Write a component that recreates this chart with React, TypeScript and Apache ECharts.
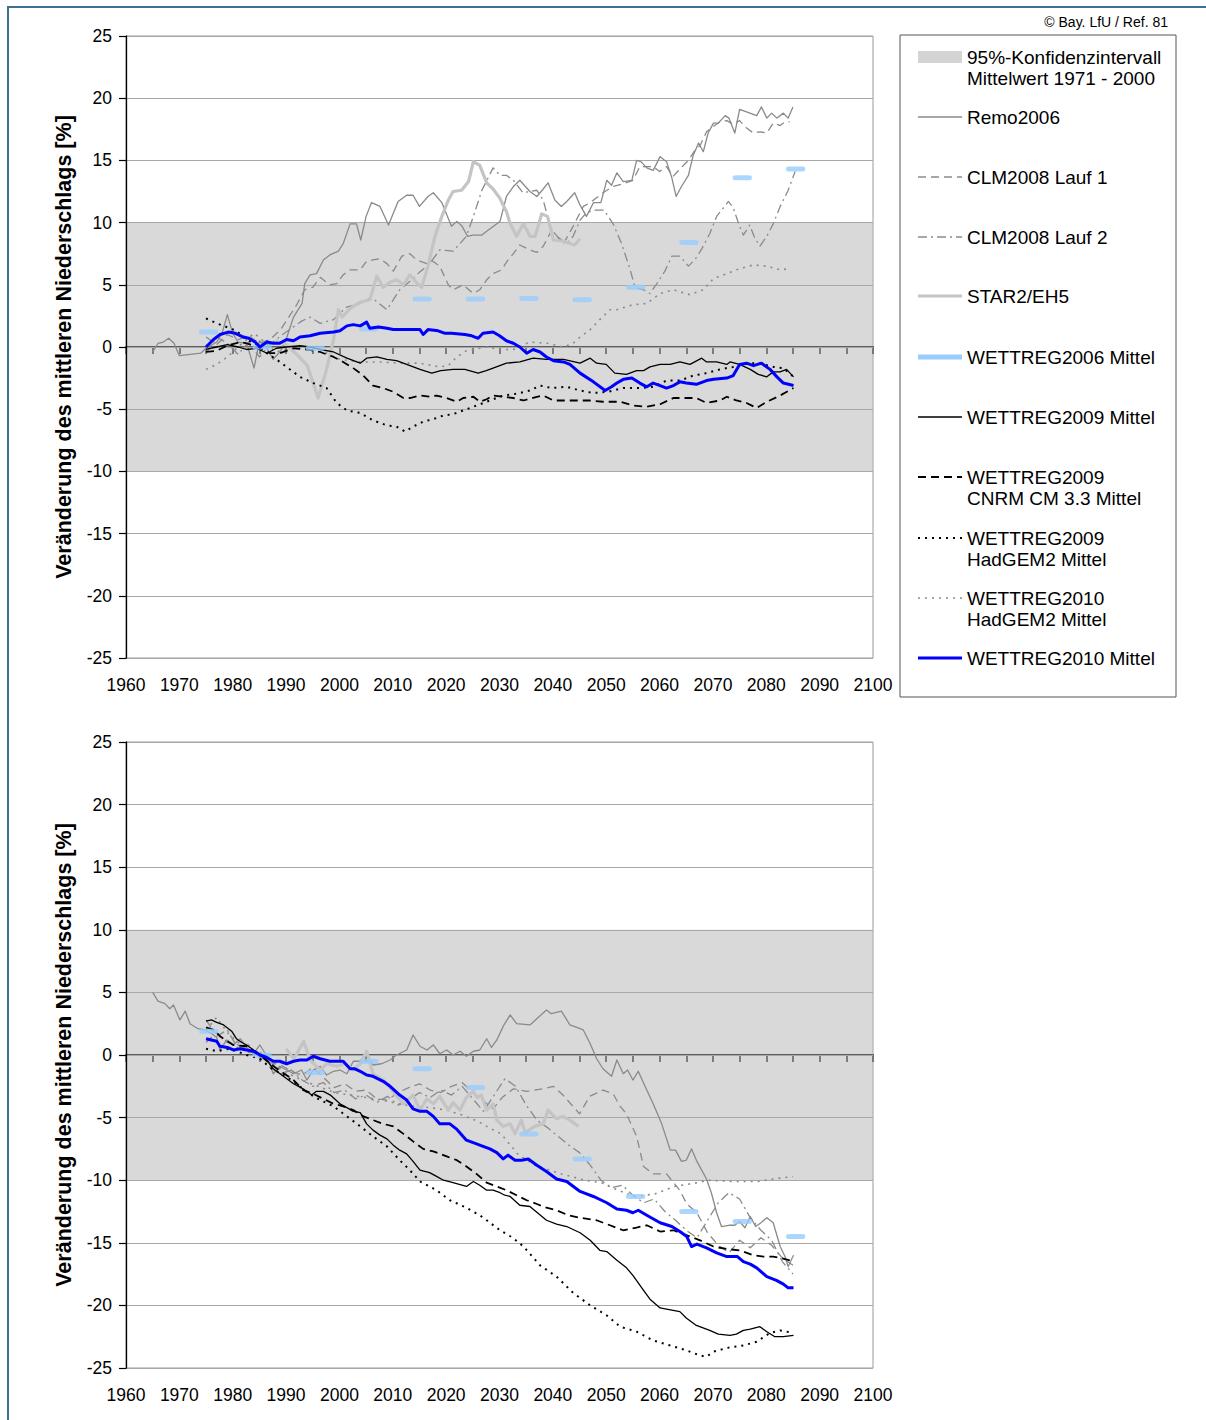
import React, { useEffect, useRef } from 'react';
import * as echarts from 'echarts';

const FONT = "'Liberation Sans', Arial, Helvetica, sans-serif";

type Pt = [number, number];

// ---------- axis ranges / ticks ----------
const yearRange = [1960, 2100];
const valueRange = [-25, 25];
const confidenceBand = [-10, 10];

// ---------- WETTREG2006: decadal means (decade centres) ----------
const w2006Years = [1975.5, 1985.5, 1995.5, 2005.5, 2015.5, 2025.5, 2035.5, 2045.5, 2055.5, 2065.5, 2075.5, 2085.5];
const w2006Top = [1.2, 0.0, -0.1, 1.45, 3.85, 3.85, 3.9, 3.8, 4.8, 8.4, 13.6, 14.3];
const w2006Bottom = [1.9, 0.0, -1.4, -0.5, -1.1, -2.6, -6.3, -8.3, -11.3, -12.5, -13.3, -14.5];

// ---------- upper panel ----------
const remoTop: Pt[] = [[1965,-0.4],[1966,0.3],[1967,0.4],[1968,0.7],[1969,0.3],[1970,-0.7],[1972,-0.6],[1974,-0.5],[1975,-0.1],[1977,0.4],[1978,1.1],[1979,2.6],[1980,1.1],[1981,0.4],[1982.6,0.3],[1984,-1.7],[1985,0.5],[1986.4,-0.1],[1987.6,-1.0],[1989,-0.3],[1990,0.6],[1991.4,2.4],[1993,3.5],[1993.5,5.1],[1994.5,5.8],[1995.7,5.9],[1997,7.0],[1998.2,7.4],[1999.8,7.7],[2000.7,8.3],[2002,9.9],[2003.2,9.9],[2004,8.6],[2005,10.5],[2006,11.6],[2007.6,11.3],[2009.2,9.8],[2011,11.7],[2012.6,12.2],[2013.8,12.2],[2015,11.3],[2016.6,12.1],[2017.6,12.4],[2019.2,11.6],[2021,9.7],[2022,10.1],[2023,9.7],[2024,8.9],[2025,9.0],[2026.7,9.0],[2027.6,9.3],[2029.5,9.9],[2030.1,10.1],[2031.3,12.1],[2032.6,12.9],[2033.8,13.4],[2035.7,12.5],[2037,12.1],[2038,12.6],[2039.1,13.2],[2040.4,11.8],[2041.6,11.3],[2042.6,11.7],[2044.1,12.4],[2045.1,11.4],[2046.3,10.5],[2047.6,11.6],[2049,11.6],[2050.1,13.4],[2051,13.0],[2052,14.0],[2053.2,13.3],[2054.8,13.4],[2055.7,15.0],[2056.5,14.9],[2057.6,14.4],[2058.8,14.2],[2060.1,15.3],[2061.3,14.9],[2062.3,13.6],[2063.1,12.1],[2064.1,12.9],[2065.4,13.8],[2066.3,15.4],[2067.3,16.4],[2068.2,15.7],[2069.1,17.2],[2070.1,18.0],[2071,18.0],[2072.3,18.6],[2073,18.4],[2074.1,17.2],[2075,19.1],[2076.3,18.9],[2078.2,18.6],[2079.1,19.3],[2080.1,18.4],[2081,18.8],[2082,18.4],[2083.2,18.8],[2084.1,18.4],[2085,19.3]];

const clm1Top: Pt[] = [[1975,0.8],[1977,0.2],[1979,1.0],[1981,0.6],[1983,0.9],[1985,0.3],[1987,0.6],[1989,1.4],[1990.5,2.4],[1992,3.4],[1993.5,4.6],[1995,4.8],[1996.4,5.6],[1998.2,5.0],[1999.5,5.1],[2000.7,5.8],[2002,6.2],[2003.9,6.2],[2005.1,6.9],[2006.3,7.0],[2007.6,7.1],[2008.9,6.7],[2010.1,6.1],[2011.7,7.3],[2013.2,7.5],[2014.5,7.0],[2016.4,6.7],[2017.5,6.9],[2018.8,6.5],[2020.4,5.0],[2021.3,4.6],[2023.2,5.0],[2025.1,4.3],[2026.3,4.6],[2027.6,5.4],[2028.8,5.9],[2030.4,6.2],[2031.6,7.0],[2032.6,7.5],[2033.8,8.2],[2035.7,7.8],[2037,7.6],[2038.2,8.1],[2039.8,9.4],[2042,8.3],[2043.8,9.7],[2045.7,11.3],[2047,11.6],[2049.4,12.4],[2051.3,12.9],[2053,13.1],[2055,13.4],[2056.3,14.5],[2058.8,14.5],[2060,14.1],[2061.3,14.5],[2062.5,13.7],[2063.8,14.3],[2065.4,15.0],[2066.6,15.8],[2067.6,16.2],[2068.8,17.3],[2070,17.7],[2071.3,18.1],[2072.6,18.2],[2073.8,17.9],[2075,18.2],[2076.3,17.6],[2077.6,17.2],[2078.8,17.3],[2080.1,17.2],[2081.3,18.0],[2082.6,17.8],[2083.5,18.1],[2084.4,18.1]];

const clm2Top: Pt[] = [[1975,-0.5],[1977,0.8],[1979,0.3],[1981,-0.6],[1983,0.4],[1985,-0.8],[1987,0.2],[1989,0.9],[1991,1.5],[1993,2.1],[1994.5,2.4],[1996.4,1.9],[1998.9,2.2],[2001.3,3.2],[2003.9,3.5],[2006,4.0],[2008.9,3.0],[2011.3,4.6],[2013,5.2],[2015,6.0],[2016.9,6.7],[2018.8,7.8],[2021.3,7.7],[2023.8,8.9],[2025.1,10.5],[2026.7,12.6],[2028.8,14.4],[2030.1,13.8],[2031.3,13.8],[2032.6,13.4],[2034.4,12.4],[2037,12.6],[2038.2,11.8],[2039.5,9.7],[2040.7,8.9],[2042.6,8.3],[2043.8,8.9],[2045.1,10.2],[2046.3,10.8],[2047.9,11.0],[2049.6,11.0],[2051.3,9.9],[2052.9,8.3],[2054.5,6.2],[2055.4,4.8],[2057,4.6],[2058.2,4.3],[2059.5,5.1],[2061,6.1],[2062.3,7.3],[2063.8,7.3],[2065.4,6.5],[2066.6,7.0],[2067.8,7.8],[2069.4,9.1],[2070.7,10.5],[2072.9,11.7],[2073.8,11.2],[2075,9.7],[2075.7,9.0],[2076.9,9.8],[2077.8,8.8],[2078.8,8.1],[2080.1,8.9],[2081.3,9.9],[2082.6,11.3],[2084.1,12.6],[2085.4,14.1]];

const starTop: Pt[] = [[1988,0.5],[1990,0.2],[1992,-0.6],[1994,-1.5],[1995,-2.8],[1996,-4.1],[1997.6,-1.8],[1998.9,0.6],[1999.8,3.0],[2000.5,2.4],[2002,3.1],[2003.9,3.6],[2005.7,3.8],[2007,5.7],[2008.2,4.8],[2009.5,5.2],[2010.7,5.4],[2012,5.0],[2013.2,5.8],[2014.2,5.3],[2015.4,4.8],[2016.6,6.5],[2017.9,8.9],[2019.2,10.5],[2020.4,11.8],[2021.3,12.5],[2022.9,12.6],[2024.2,13.3],[2025.1,14.9],[2026.3,14.6],[2027.6,13.2],[2028.8,12.7],[2030,12.0],[2031.3,10.9],[2032,9.9],[2033.2,8.9],[2034.5,9.9],[2035.7,8.9],[2036.7,8.9],[2037.9,10.7],[2039,10.5],[2040.1,8.6],[2042,8.5],[2044.1,8.2],[2045.1,8.7]];

const w2009Top: Pt[] = [[1975,-0.2],[1977,0],[1979,0.2],[1981,0],[1982.6,-0.2],[1984.5,-0.1],[1986.4,-0.5],[1988.2,-0.1],[1990,0],[1992.6,0.1],[1994.5,0],[1996.4,-0.2],[1998.9,-0.4],[2001.4,-0.9],[2003.9,-1.3],[2005.1,-0.9],[2007,-0.8],[2008.9,-1.0],[2010.7,-1.1],[2012.6,-1.4],[2015.1,-1.8],[2017.3,-2.1],[2019,-1.9],[2021.3,-1.8],[2023.5,-1.8],[2026,-2.1],[2027.5,-1.9],[2028.8,-1.7],[2031.3,-1.3],[2033.8,-1.2],[2036.3,-0.9],[2038.8,-1.0],[2042,-1.0],[2045.1,-1.3],[2047,-0.9],[2048.2,-1.3],[2050,-1.4],[2051.6,-2.1],[2053.8,-2.2],[2055.7,-1.9],[2057,-1.9],[2058.2,-1.6],[2060.1,-1.4],[2062,-1.4],[2063.8,-1.2],[2065.7,-1.4],[2067.9,-0.9],[2068.8,-1.2],[2070.7,-1.2],[2072.6,-1.4],[2073.2,-1.2],[2075,-1.4],[2077,-1.8],[2078.5,-2.2],[2080.1,-2.4],[2081.3,-2.0],[2082.6,-2.0],[2083.8,-1.8],[2085.1,-2.4]];

const cnrmTop: Pt[] = [[1975,-0.4],[1977,-0.3],[1978.9,0.1],[1981.4,0.4],[1982.6,0.3],[1985.1,-0.1],[1987,-0.5],[1988.8,-0.5],[1991.4,-0.1],[1994,-0.2],[1996.4,-0.4],[1998.9,-0.8],[2000.7,-1.2],[2002.6,-1.7],[2004.5,-2.3],[2006.3,-3.1],[2008.2,-3.3],[2010.1,-3.6],[2012,-4.1],[2013.2,-4.1],[2015.1,-3.9],[2017,-4.0],[2018.2,-3.9],[2020.1,-4.1],[2022,-4.4],[2023.2,-4.1],[2025.1,-4.0],[2026.3,-4.4],[2027.6,-4.2],[2028.8,-3.9],[2030.7,-4.0],[2032.6,-4.1],[2034.5,-4.3],[2037,-4.0],[2038.2,-3.9],[2040.1,-4.3],[2043.2,-4.3],[2046.9,-4.3],[2049.4,-4.4],[2052.6,-4.4],[2055,-4.7],[2057.6,-4.8],[2060.1,-4.6],[2062.6,-4.1],[2065,-4.1],[2066.9,-4.1],[2068.8,-4.5],[2071.3,-4.3],[2072.6,-4.0],[2074.4,-4.3],[2076.3,-4.5],[2078.2,-4.9],[2080.1,-4.4],[2082.6,-3.9],[2085.1,-3.3]];

const hadgem09Top: Pt[] = [[1975,2.3],[1977,1.9],[1978.9,1.6],[1980.7,1.3],[1982.6,0.6],[1984.5,0.2],[1986.4,-0.5],[1988.2,-1.0],[1990.1,-1.6],[1992.6,-2.4],[1995.1,-2.9],[1997.6,-3.3],[1999.5,-4.5],[2001.4,-5.1],[2003.9,-5.3],[2006.3,-5.9],[2008.9,-6.3],[2010.7,-6.4],[2012.3,-6.8],[2013.8,-6.4],[2015.7,-6.0],[2017.6,-5.8],[2019.5,-5.5],[2021.3,-5.4],[2023.2,-5.1],[2025.1,-4.8],[2027,-4.5],[2028.8,-4.2],[2030.7,-3.9],[2032.6,-3.8],[2033.8,-3.7],[2035.7,-3.5],[2037.6,-3.1],[2039.8,-3.3],[2042.6,-3.2],[2045.1,-3.5],[2047.6,-3.7],[2050.4,-3.6],[2053.2,-3.3],[2056.3,-3.3],[2058.8,-3.2],[2061.3,-2.7],[2063.8,-2.7],[2066.3,-2.3],[2068.8,-2.1],[2071.3,-1.8],[2073.8,-1.6],[2076.3,-1.3],[2078.8,-1.3],[2081.3,-1.6],[2083.2,-1.7],[2085.1,-2.4]];

const hadgem10Top: Pt[] = [[1975,-1.8],[1977,-1.4],[1979,-0.8],[1981,0],[1982.6,0.6],[1984,1.1],[1986,0.4],[1988,-0.4],[1990,-0.2],[1993,-0.1],[1996.4,-0.2],[1998,-0.6],[2000.1,-1.0],[2003.9,-1.2],[2007.6,-1.2],[2011.3,-1.3],[2015,-1.3],[2018.8,-1.6],[2020.4,-1.5],[2022,-0.8],[2023.8,-0.3],[2027.6,0],[2030.1,-0.2],[2032.6,-0.2],[2035.7,0.4],[2039,0.3],[2042,0],[2043.8,0.3],[2045.1,0.8],[2047,1.4],[2048.8,2.2],[2050.7,3.0],[2052,3.0],[2055,3.4],[2057.6,3.5],[2060.1,4.3],[2062.6,4.6],[2065.7,4.2],[2068.2,4.6],[2070.1,5.5],[2072.6,5.9],[2075,6.3],[2077.6,6.6],[2080.1,6.5],[2082.6,6.2],[2084.4,6.3]];

const w2010Top: Pt[] = [[1975,0],[1976.4,0.6],[1977.6,1.0],[1979.2,1.2],[1980.5,1.1],[1982,0.8],[1983,0.7],[1984.2,0.4],[1985.1,0],[1986.4,0.4],[1987.6,0.3],[1988.8,0.3],[1990.1,0.6],[1991.4,0.5],[1992.6,0.8],[1994.5,0.9],[1996.4,1.1],[1998.9,1.2],[2000.1,1.3],[2001.4,1.7],[2002.6,1.8],[2003.9,1.7],[2005.1,2.0],[2005.7,1.5],[2007.3,1.6],[2008.9,1.5],[2010.1,1.4],[2011.3,1.4],[2012.6,1.4],[2015.1,1.4],[2015.7,1.0],[2016.6,1.4],[2018.5,1.3],[2019.8,1.1],[2021,1.1],[2023.5,1.0],[2024.8,0.9],[2026,0.7],[2026.9,1.1],[2028.8,1.2],[2030,0.9],[2031.3,0.5],[2032.6,0.3],[2033.8,0.0],[2035.1,-0.5],[2036.3,-0.2],[2037.6,-0.4],[2038.8,-0.8],[2040.1,-1.1],[2042,-1.2],[2043.2,-1.4],[2045.1,-2.1],[2047.6,-2.8],[2049.8,-3.5],[2051,-3.2],[2052,-2.9],[2053.2,-2.6],[2054.8,-2.5],[2056.3,-2.9],[2057.6,-3.2],[2058.8,-2.9],[2060.1,-3.1],[2061.3,-3.3],[2062.6,-3.1],[2063.8,-2.8],[2065,-2.9],[2066.9,-3.0],[2068.8,-2.7],[2070.1,-2.6],[2072.6,-2.5],[2073.8,-2.3],[2075,-1.4],[2076.3,-1.3],[2077.6,-1.5],[2079.1,-1.3],[2080.7,-1.8],[2082,-2.4],[2083.2,-2.9],[2085.1,-3.1]];

// ---------- lower panel ----------
const remoBottom: Pt[] = [[1965,5.0],[1966,4.3],[1967.3,4.1],[1968.2,3.7],[1968.9,4.0],[1970.1,2.8],[1971.1,3.5],[1972,2.5],[1973.5,2.1],[1974.8,2.0],[1976.1,1.7],[1977,1.4],[1977.6,0.4],[1978.9,1.2],[1980.1,0.8],[1981.4,1.3],[1982.6,0.6],[1983.9,0.1],[1985.1,0.8],[1986.4,-0.1],[1987.6,-1.5],[1988.8,-0.9],[1990.1,-1.2],[1991.4,-1.5],[1992.9,-1.2],[1993.9,-2.0],[1995.1,-1.2],[1996.4,-0.9],[1997.6,-1.6],[1998.9,-1.3],[2000.1,-1.2],[2001.4,-1.5],[2002.6,-0.5],[2003.9,-0.5],[2005.1,0.1],[2006.3,-0.8],[2007.9,-0.7],[2009.5,-0.4],[2010.7,0],[2012.6,0.4],[2013.8,1.6],[2015.1,0.7],[2016.4,0.4],[2017.6,0.8],[2018.8,0.1],[2020.1,0.4],[2021.3,0],[2022.6,0.3],[2023.8,-0.1],[2025.1,0.3],[2026.3,0.4],[2027.6,1.3],[2028.5,0.6],[2029.5,1.2],[2030.7,2.3],[2032,3.2],[2033.2,2.5],[2035.7,2.4],[2037,2.9],[2038.8,3.6],[2039.7,3.3],[2041.6,3.5],[2043.2,2.4],[2044.5,2.2],[2045.7,2.0],[2047,0.9],[2048.2,-0.3],[2049.4,-1.1],[2051,-1.7],[2052,-0.4],[2053.2,-1.5],[2054,-1.2],[2055,-2.0],[2056,-1.3],[2057.6,-2.8],[2058.8,-3.9],[2060.4,-5.5],[2062,-7.6],[2063,-7.6],[2064.1,-8.5],[2065,-8.4],[2066,-7.5],[2067,-8.5],[2068.8,-9.9],[2069.7,-11.0],[2070.7,-12.6],[2071.6,-13.7],[2073,-13.6],[2074.1,-13.6],[2075,-13.3],[2076,-13.8],[2077,-12.9],[2078,-13.7],[2079,-13.4],[2080.1,-13.0],[2081.3,-13.4],[2082.6,-15.3],[2083.5,-16.1],[2084.1,-16.9],[2085.1,-16.0]];

const clm1Bottom: Pt[] = [[1975,1.0],[1977,1.8],[1979,1.0],[1981,0.8],[1983,0.2],[1985,0.3],[1987,-0.6],[1989,-0.8],[1991,-1.3],[1993,-1.6],[1995,-1.0],[1997,-1.8],[1999,-2.6],[2001,-2.3],[2003,-2.9],[2005,-2.8],[2007,-3.5],[2009,-3.6],[2011,-3.0],[2013,-2.6],[2015,-2.3],[2017,-2.8],[2019,-3.0],[2021,-2.5],[2023,-2.2],[2025,-3.0],[2026.5,-3.5],[2028.8,-4.3],[2030.5,-3.4],[2032.6,-2.7],[2035.1,-2.9],[2038.2,-2.7],[2040.1,-2.5],[2041.9,-3.2],[2045,-4.7],[2046.9,-3.3],[2049.4,-2.8],[2051.3,-3.1],[2052.6,-4.1],[2053.8,-4.7],[2055.7,-6.5],[2057,-8.9],[2058.8,-9.5],[2061.3,-9.5],[2063.8,-10.8],[2065.1,-11.9],[2067,-12.6],[2069,-14.2],[2071,-15.2],[2073,-15.8],[2075,-14.8],[2077,-15.4],[2079,-14.6],[2081,-15.2],[2083,-16.2],[2085,-16.8]];

const clm2Bottom: Pt[] = [[1975,2.8],[1977,1.5],[1979,2.0],[1981,0.5],[1983,0.8],[1985,-0.2],[1987,-1.0],[1989,-1.5],[1991,-1.2],[1993,-2.0],[1995,-2.5],[1997,-2.2],[1999,-3.0],[2001,-2.8],[2003,-3.5],[2005,-3.2],[2007,-3.8],[2009,-3.3],[2011,-4.0],[2013,-3.6],[2015,-3.0],[2017,-3.4],[2019,-2.8],[2021,-3.2],[2023,-2.5],[2025,-3.5],[2027,-4.5],[2029,-3.2],[2031,-1.9],[2033,-2.5],[2035,-4.0],[2037,-5.2],[2039,-5.8],[2041,-6.5],[2043,-7.2],[2045,-7.8],[2047,-8.8],[2049,-10.0],[2051,-10.6],[2053,-10.4],[2055,-11.2],[2057,-11.8],[2059,-11.5],[2061,-12.5],[2063,-13.2],[2065,-14.0],[2067,-14.6],[2069,-13.2],[2071,-11.8],[2073,-11.0],[2075,-11.5],[2077,-13.0],[2079,-14.0],[2081,-14.8],[2083,-16.5],[2085,-17.5]];

const starBottom: Pt[] = [[1990,0.5],[1991.5,-0.3],[1993.3,1.1],[1994.5,-0.4],[1996.4,-1.2],[1997.6,-0.7],[1999.5,-0.9],[2001,-0.7],[2002.6,-1.2],[2003.9,-0.7],[2005.1,0.3],[2006.3,-1.5],[2008.2,-2.0],[2009.5,-2.6],[2010.7,-3.3],[2012,-3.9],[2013.8,-3.2],[2015.1,-4.4],[2016.4,-3.5],[2017.6,-3.9],[2018.8,-3.3],[2020.4,-4.4],[2021.3,-3.8],[2022.6,-4.4],[2023.8,-3.4],[2025.1,-2.9],[2025.8,-3.4],[2026.6,-3.2],[2027.6,-4.4],[2028.8,-3.9],[2029.5,-5.2],[2030.7,-5.7],[2032,-5.5],[2032.9,-6.3],[2034.1,-5.2],[2034.8,-6.2],[2036.6,-5.7],[2038.2,-5.5],[2039.1,-4.4],[2040.7,-5.1],[2041.9,-4.9],[2043.2,-5.2],[2044.8,-5.7]];

const w2009Bottom: Pt[] = [[1975,2.7],[1976,2.8],[1977,2.6],[1978.3,2.4],[1979.8,1.9],[1980.7,1.3],[1981.7,1.0],[1982.6,0.8],[1983.9,0.4],[1985.1,0.1],[1986.4,-0.4],[1987.6,-1.1],[1989.5,-1.7],[1991.4,-2.3],[1993.2,-2.7],[1994.8,-3.2],[1995.7,-2.9],[1997,-2.9],[1998.3,-3.2],[2000.1,-3.9],[2001.4,-4.2],[2002.6,-4.5],[2003.9,-4.6],[2005.1,-5.5],[2006.3,-6.0],[2007.6,-6.4],[2008.9,-6.7],[2010.1,-7.2],[2011.3,-7.6],[2012.6,-7.9],[2013.8,-8.5],[2015.1,-9.2],[2016.9,-9.4],[2018.2,-9.7],[2019.5,-10.0],[2021.3,-10.2],[2023.8,-10.5],[2025.1,-10.1],[2026.3,-10.4],[2027.6,-10.8],[2028.8,-10.8],[2030.1,-11.0],[2031,-11.2],[2032,-11.3],[2033.8,-12.0],[2035.7,-12.1],[2038.8,-13.2],[2040.7,-13.5],[2042.6,-13.7],[2045.1,-14.2],[2047,-14.8],[2048.8,-15.6],[2050.1,-15.7],[2052,-16.4],[2053.8,-17.0],[2055,-17.6],[2057,-18.8],[2058.2,-19.5],[2060.1,-20.2],[2061.3,-20.3],[2063.8,-20.5],[2065,-21.0],[2066.9,-21.6],[2069.4,-22.0],[2071,-22.3],[2073.2,-22.4],[2074.4,-22.3],[2075.7,-22.0],[2077,-21.9],[2078.8,-21.7],[2080.1,-22.1],[2081.6,-22.5],[2083.2,-22.5],[2085.1,-22.4]];

const cnrmBottom: Pt[] = [[1975,2.2],[1976.5,2.0],[1977.6,1.5],[1980.1,0.8],[1982.6,0.7],[1985.1,0],[1987,-0.7],[1989,-1.3],[1991.4,-2.0],[1993.2,-2.8],[1995.1,-3.1],[1997,-3.5],[1998.9,-3.9],[2000.7,-4.1],[2002.6,-4.4],[2004.5,-4.9],[2006.3,-5.2],[2008.2,-5.5],[2010.1,-5.7],[2012,-6.3],[2013.8,-6.9],[2015.7,-7.5],[2017.6,-7.7],[2020.1,-8.1],[2022,-8.4],[2023.8,-8.9],[2025.7,-9.5],[2027.6,-10.2],[2029.5,-10.5],[2031.3,-10.8],[2033.2,-11.2],[2035.1,-11.6],[2037,-11.9],[2038.8,-12.2],[2040.7,-12.4],[2042.9,-12.8],[2045.1,-13.0],[2048.2,-13.2],[2050.7,-13.6],[2053.2,-14.0],[2055.5,-13.8],[2057.6,-13.6],[2060.1,-14.1],[2062.6,-14.0],[2065.1,-14.4],[2067.6,-14.8],[2070.1,-15.3],[2072.6,-15.5],[2075,-15.6],[2077.6,-16.0],[2079.5,-16.1],[2081.3,-16.1],[2082.6,-16.2],[2084.4,-16.4]];

const hadgem09Bottom: Pt[] = [[1975,0.5],[1977,0.3],[1979.5,0.5],[1982.6,0],[1985.1,-0.3],[1987,-1.0],[1989.5,-1.6],[1991.4,-2.1],[1994,-3.0],[1996.4,-3.6],[1998.9,-4.1],[2001.4,-4.9],[2003.9,-5.7],[2006.3,-6.5],[2008.9,-7.3],[2011.3,-8.4],[2013.2,-9.2],[2015.1,-10.1],[2018.2,-10.8],[2020.7,-11.6],[2023.8,-12.2],[2026.3,-12.8],[2027.6,-13.2],[2030.1,-14.0],[2032.5,-14.6],[2034.5,-15.3],[2037.6,-16.8],[2040.7,-17.7],[2043.8,-19.0],[2047,-20.0],[2050.1,-20.8],[2052.6,-21.7],[2055.7,-22.1],[2058.8,-22.8],[2062,-23.2],[2065.1,-23.6],[2067.6,-24.0],[2068.8,-24.1],[2070.1,-23.7],[2072.6,-23.4],[2075.7,-23.2],[2078.2,-22.9],[2080.7,-22.2],[2082.6,-22.0],[2085.1,-22.2]];

const hadgem10Bottom: Pt[] = [[1975,2.0],[1977,3.0],[1979,1.8],[1981,1.0],[1983,0.3],[1985,0],[1987,-0.6],[1990,-1.4],[1993,-2.0],[1996,-2.5],[1999,-3.0],[2002,-3.2],[2005,-3.4],[2008,-3.6],[2011,-3.9],[2014,-4.1],[2017,-4.2],[2020,-4.4],[2023,-4.8],[2026,-5.3],[2028,-5.8],[2030.3,-6.3],[2033.4,-7.9],[2036.6,-8.8],[2041.6,-9.5],[2046,-10.0],[2049.1,-10.2],[2052.2,-10.8],[2055.3,-11.3],[2059.1,-11.1],[2062.8,-10.5],[2067.1,-10.2],[2069,-10.0],[2074,-10.1],[2078.4,-10.1],[2081.5,-9.9],[2085,-9.7]];

const w2010Bottom: Pt[] = [[1975,1.3],[1977,1.1],[1977.6,0.7],[1979,0.6],[1980.1,0.4],[1981.4,0.5],[1982.6,0.4],[1983.9,0.3],[1985.1,0],[1986.4,-0.2],[1987.6,-0.5],[1988.8,-0.5],[1990.1,-0.7],[1991.4,-0.5],[1992.6,-0.4],[1993.9,-0.4],[1995.1,-0.1],[1996.4,-0.3],[1998.2,-0.5],[2000.7,-0.5],[2002,-1.1],[2002.9,-1.1],[2003.9,-1.3],[2005.1,-1.6],[2006.3,-1.7],[2008.2,-2.1],[2009.5,-2.5],[2011.3,-3.2],[2012.6,-3.6],[2013.8,-4.3],[2015.1,-4.5],[2016.4,-4.5],[2017.6,-4.9],[2018.8,-5.5],[2020.7,-5.5],[2021.9,-5.9],[2023.8,-6.8],[2025.7,-7.1],[2026.3,-7.2],[2028.2,-7.5],[2029.5,-7.8],[2030.7,-8.3],[2031.6,-8.0],[2032.9,-8.4],[2034.1,-8.4],[2035.4,-8.3],[2037,-8.8],[2038.8,-9.3],[2040.7,-9.9],[2042.6,-10.1],[2045.1,-10.9],[2047.6,-11.3],[2050.1,-11.8],[2052,-12.3],[2053.8,-12.4],[2055,-12.6],[2056,-12.4],[2057.6,-12.8],[2060.1,-13.4],[2062.3,-13.7],[2063.8,-14.1],[2065.1,-14.5],[2066,-15.3],[2067,-15.1],[2068.8,-15.4],[2070.7,-15.8],[2072.6,-16.1],[2074.6,-16.1],[2075.7,-16.5],[2077,-16.7],[2078.2,-17.0],[2080.1,-17.7],[2081.9,-18.0],[2083.2,-18.3],[2084.1,-18.6],[2085.1,-18.6]];

// ---------- texts ----------
const yTitle = 'Veränderung des mittleren Niederschlags [%]';
const copyright = '© Bay. LfU / Ref. 81';
const bandLabel = ['95%-Konfidenzintervall', 'Mittelwert 1971 - 2000'];

// ---------- line styles per model ----------
const GREY = '#8a8a8a';
const STYLE: Record<string, { color: string; width: number; type: any }> = {
  remo: { color: GREY, width: 1.3, type: 'solid' },
  clm1: { color: GREY, width: 1.3, type: [8, 5] },
  clm2: { color: GREY, width: 1.3, type: [9, 4, 2, 4] },
  star: { color: '#c4c4c4', width: 3.2, type: 'solid' },
  w2006: { color: '#99ccff', width: 5, type: 'solid' },
  w2009: { color: '#000000', width: 1.3, type: 'solid' },
  cnrm: { color: '#000000', width: 1.8, type: [8, 5] },
  had09: { color: '#000000', width: 2, type: [2, 5] },
  had10: { color: GREY, width: 1.6, type: [2, 5] },
  w2010: { color: '#0000ff', width: 3, type: 'solid' },
};

const LEGEND: { key: string; lines: string[] }[] = [
  { key: 'remo', lines: ['Remo2006'] },
  { key: 'clm1', lines: ['CLM2008 Lauf 1'] },
  { key: 'clm2', lines: ['CLM2008 Lauf 2'] },
  { key: 'star', lines: ['STAR2/EH5'] },
  { key: 'w2006', lines: ['WETTREG2006 Mittel'] },
  { key: 'w2009', lines: ['WETTREG2009 Mittel'] },
  { key: 'cnrm', lines: ['WETTREG2009', 'CNRM CM 3.3 Mittel'] },
  { key: 'had09', lines: ['WETTREG2009', 'HadGEM2 Mittel'] },
  { key: 'had10', lines: ['WETTREG2010', 'HadGEM2 Mittel'] },
  { key: 'w2010', lines: ['WETTREG2010 Mittel'] },
];

const GRIDS = [
  { left: 126, top: 36, width: 747, height: 622 },
  { left: 126, top: 742, width: 747, height: 626 },
];

function lineSeries(name: string, key: string, data: Pt[], panel: number, z: number) {
  const s = STYLE[key];
  return {
    name,
    type: 'line',
    xAxisIndex: panel * 2,
    yAxisIndex: panel,
    data,
    symbol: 'none',
    showSymbol: false,
    silent: true,
    z,
    lineStyle: { color: s.color, width: s.width, type: s.type, cap: 'butt', join: 'round' },
  };
}

function panelSeries(panel: number, d: {
  remo: Pt[]; clm1: Pt[]; clm2: Pt[]; star: Pt[]; w2009: Pt[]; cnrm: Pt[]; had09: Pt[]; had10: Pt[]; w2010: Pt[]; w2006: number[];
}) {
  return [
    {
      name: 'Konfidenzintervall',
      type: 'line',
      xAxisIndex: panel * 2,
      yAxisIndex: panel,
      data: [],
      silent: true,
      z: 1,
      markArea: {
        silent: true,
        itemStyle: { color: 'rgba(185,185,185,0.55)' },
        data: [[{ yAxis: confidenceBand[0] }, { yAxis: confidenceBand[1] }]],
      },
    },
    lineSeries('Remo2006', 'remo', d.remo, panel, 3),
    lineSeries('CLM2008 Lauf 1', 'clm1', d.clm1, panel, 3),
    lineSeries('CLM2008 Lauf 2', 'clm2', d.clm2, panel, 3),
    lineSeries('WETTREG2010 HadGEM2 Mittel', 'had10', d.had10, panel, 3),
    lineSeries('STAR2/EH5', 'star', d.star, panel, 3),
    lineSeries('WETTREG2009 Mittel', 'w2009', d.w2009, panel, 4),
    lineSeries('WETTREG2009 CNRM CM 3.3 Mittel', 'cnrm', d.cnrm, panel, 4),
    lineSeries('WETTREG2009 HadGEM2 Mittel', 'had09', d.had09, panel, 4),
    {
      name: 'WETTREG2006 Mittel',
      type: 'scatter',
      xAxisIndex: panel * 2,
      yAxisIndex: panel,
      data: w2006Years.map((y, i) => [y, d.w2006[i]]),
      symbol: 'roundRect',
      symbolSize: [19, 5],
      silent: true,
      z: 4,
      itemStyle: { color: STYLE.w2006.color },
    },
    lineSeries('WETTREG2010 Mittel', 'w2010', d.w2010, panel, 5),
  ];
}

function axesFor(panel: number) {
  const x = [
    {
      gridIndex: panel,
      type: 'value',
      min: yearRange[0],
      max: yearRange[1],
      interval: 10,
      position: 'bottom',
      axisLine: { show: false, onZero: false },
      axisTick: { show: false },
      splitLine: { show: false },
      axisLabel: { fontFamily: FONT, fontSize: 17.5, color: '#000', margin: 18, formatter: (v: number) => String(v) },
    },
    {
      gridIndex: panel,
      type: 'value',
      min: yearRange[0],
      max: yearRange[1],
      interval: 5,
      position: 'bottom',
      z: 2,
      axisLine: { show: true, onZero: true, lineStyle: { color: '#5c5c5c', width: 2 } },
      axisTick: { show: true, length: 7, lineStyle: { color: '#5c5c5c', width: 1.5 } },
      axisLabel: { show: false },
      splitLine: { show: false },
    },
  ];
  const y = {
    gridIndex: panel,
    type: 'value',
    min: valueRange[0],
    max: valueRange[1],
    interval: 5,
    z: 3,
    axisLine: { show: true, onZero: false, lineStyle: { color: '#000', width: 1.3 } },
    axisTick: { show: true, length: 7, lineStyle: { color: '#000', width: 1.2 } },
    axisLabel: { fontFamily: FONT, fontSize: 17.5, color: '#000', margin: 14, formatter: (v: number) => String(v) },
    splitLine: { show: true, lineStyle: { color: '#a8a8a8', width: 1 } },
  };
  return { x, y };
}

function legendGraphics() {
  const els: any[] = [];
  const x1 = 918;
  const x2 = 962;
  const tx = 967;
  const textStyle = (text: string, y: number) => ({
    type: 'text',
    x: tx,
    y,
    silent: true,
    style: { text, fontFamily: FONT, fontSize: 19, fill: '#000', textAlign: 'left', textVerticalAlign: 'middle' },
  });
  els.push({
    type: 'rect',
    shape: { x: 900, y: 35, width: 276, height: 662 },
    silent: true,
    style: { fill: '#fff', stroke: '#555', lineWidth: 1 },
  });
  els.push({
    type: 'rect',
    shape: { x: x1, y: 51, width: x2 - x1, height: 12 },
    silent: true,
    style: { fill: '#d4d4d4' },
  });
  els.push(textStyle(bandLabel[0], 57));
  els.push(textStyle(bandLabel[1], 78));
  const rowY = [117, 177, 237, 296, 357, 417, 477, 538, 598, 658];
  LEGEND.forEach((item, i) => {
    const s = STYLE[item.key];
    const y = rowY[i];
    els.push({
      type: 'line',
      silent: true,
      shape: { x1, y1: y, x2, y2: y },
      style: { stroke: s.color, lineWidth: s.width, lineDash: Array.isArray(s.type) ? s.type : null },
    });
    item.lines.forEach((t, j) => els.push(textStyle(t, y + j * 21)));
  });
  return els;
}

function buildOption() {
  const top = axesFor(0);
  const bottom = axesFor(1);
  return {
    animation: false,
    backgroundColor: '#ffffff',
    textStyle: { fontFamily: FONT },
    grid: GRIDS.map((g) => ({ ...g, show: true, borderColor: '#9a9a9a', borderWidth: 1, backgroundColor: 'transparent', containLabel: false })),
    xAxis: [...top.x, ...bottom.x],
    yAxis: [top.y, bottom.y],
    series: [
      ...panelSeries(0, {
        remo: remoTop, clm1: clm1Top, clm2: clm2Top, star: starTop, w2009: w2009Top,
        cnrm: cnrmTop, had09: hadgem09Top, had10: hadgem10Top, w2010: w2010Top, w2006: w2006Top,
      }),
      ...panelSeries(1, {
        remo: remoBottom, clm1: clm1Bottom, clm2: clm2Bottom, star: starBottom, w2009: w2009Bottom,
        cnrm: cnrmBottom, had09: hadgem09Bottom, had10: hadgem10Bottom, w2010: w2010Bottom, w2006: w2006Bottom,
      }),
    ],
    graphic: {
      elements: [
        {
          type: 'rect',
          silent: true,
          shape: { x: 8, y: 7, width: 1400, height: 1600 },
          style: { fill: 'none', stroke: '#41708f', lineWidth: 2 },
        },
        {
          type: 'text',
          silent: true,
          x: 1168,
          y: 22,
          style: { text: copyright, fontFamily: FONT, fontSize: 14, fill: '#000', textAlign: 'right', textVerticalAlign: 'middle' },
        },
        ...GRIDS.map((g) => ({
          type: 'text',
          silent: true,
          x: 64,
          y: g.top + g.height / 2,
          rotation: Math.PI / 2,
          style: { text: yTitle, fontFamily: FONT, fontSize: 21.5, fontWeight: 'bold', fill: '#000', textAlign: 'center', textVerticalAlign: 'middle' },
        })),
        ...legendGraphics(),
      ],
    },
  };
}

export default function App() {
  const ref = useRef<HTMLDivElement>(null);
  useEffect(() => {
    if (!ref.current) return;
    const chart = echarts.init(ref.current, null, { renderer: 'svg' });
    chart.setOption(buildOption() as any);
    return () => chart.dispose();
  }, []);
  return (
    <div
      ref={ref}
      style={{ position: 'absolute', left: 0, top: 0, width: 1206, height: 1420, background: '#fff' }}
    />
  );
}
